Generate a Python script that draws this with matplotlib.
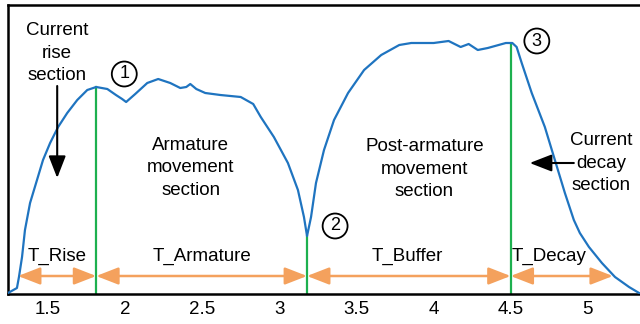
import matplotlib.pyplot as plt

plt.rcParams['font.family'] = ['Liberation Sans', 'DejaVu Sans']

# current waveform (time, arbitrary current units)
time = [1.240, 1.298, 1.311, 1.331, 1.350, 1.383, 1.428, 1.467, 1.513, 1.565,
        1.624, 1.689, 1.754, 1.812, 1.884, 1.940, 1.980, 2.006, 2.065, 2.143,
        2.214, 2.292, 2.357, 2.396, 2.422, 2.461, 2.519, 2.617, 2.749, 2.830,
        2.879, 2.964, 3.055, 3.120, 3.159, 3.179, 3.205, 3.237, 3.289, 3.354,
        3.445, 3.549, 3.660, 3.777, 3.855, 4.000, 4.097, 4.136, 4.175, 4.227,
        4.286, 4.351, 4.468, 4.510, 4.538, 4.571, 4.636, 4.721, 4.786, 4.851,
        4.909, 4.948, 5.007, 5.091, 5.176, 5.267, 5.332]
current = [1, 6, 17, 37, 64, 91, 114, 134, 151, 167,
           181, 194, 204, 207, 205, 199, 195, 192, 200, 211,
           215, 211, 206, 207, 210, 205, 201, 199, 197, 190,
           177, 157, 131, 104, 77, 58, 77, 111, 144, 174,
           201, 224, 239, 249, 251, 251, 253, 250, 247, 250,
           244, 246, 251, 251, 247, 231, 201, 167, 134, 101,
           74, 61, 47, 31, 17, 7, 1]

# section boundaries (time, current at the marker)
bounds_t = [1.812, 3.179, 4.499]
bounds_i = [207, 58, 250]
rise_start = 1.305
decay_end = 5.162

span_labels = ['T_Rise', 'T_Armature', 'T_Buffer', 'T_Decay']
label_x = [1.559, 2.495, 3.829, 4.747]
ticks = [1.5, 2, 2.5, 3, 3.5, 4, 4.5, 5]

blue = '#1f74c0'
green = '#1db04f'
orange = '#f4a15d'

fig = plt.figure(figsize=(6.4, 3.24), dpi=100)
ax = fig.add_axes([8 / 640, 30 / 324, 1 - 8 / 640, 289 / 324])
ax.set_xlim(1.240, 5.338)
ax.set_ylim(0, 289)

ax.plot(time, current, color=blue, linewidth=1.6, zorder=3)

for t, i in zip(bounds_t, bounds_i):
    ax.plot([t, t], [0, i], color=green, linewidth=1.6, zorder=2)

# double arrows for time spans
edges = [rise_start] + bounds_t + [decay_end]
arrow_y = 18
for k in range(len(span_labels)):
    ax.annotate('', xy=(edges[k + 1], arrow_y), xytext=(edges[k], arrow_y),
                arrowprops=dict(arrowstyle='<|-|>,head_length=0.9,head_width=0.35',
                                color=orange, lw=1.8, shrinkA=0, shrinkB=0,
                                mutation_scale=15))
for x, lab in zip(label_x, span_labels):
    ax.text(x, 38, lab, ha='center', va='center', fontsize=13.5)

# circled markers
circles = [('1', 1.994, 220), ('2', 3.361, 68), ('3', 4.669, 253)]
for s, x, y in circles:
    ax.text(x, y, s, ha='center', va='center', fontsize=13,
            bbox=dict(boxstyle='circle,pad=0.22', fc='white', ec='black', lw=1.3))

# section descriptions
ax.text(1.559, 241, 'Current\nrise\nsection', ha='center', va='center',
        fontsize=13.5, linespacing=1.4)
ax.annotate('', xy=(1.559, 116), xytext=(1.559, 208),
            arrowprops=dict(arrowstyle='-|>,head_length=0.9,head_width=0.35',
                            color='black', lw=1.5, shrinkA=0, shrinkB=0,
                            mutation_scale=15))
ax.text(5.085, 131, 'Current\ndecay\nsection', ha='center', va='center',
        fontsize=13.5, linespacing=1.4)
ax.annotate('', xy=(4.623, 131), xytext=(4.909, 131),
            arrowprops=dict(arrowstyle='-|>,head_length=0.9,head_width=0.35',
                            color='black', lw=1.5, shrinkA=0, shrinkB=0,
                            mutation_scale=15))
ax.text(2.424, 126, 'Armature\nmovement\nsection', ha='center', va='center',
        fontsize=13.5, linespacing=1.4)
ax.text(3.940, 125, 'Post-armature\nmovement\nsection', ha='center', va='center',
        fontsize=13.5, linespacing=1.4)

ax.spines['right'].set_visible(False)
for s in ['top', 'left', 'bottom']:
    ax.spines[s].set_linewidth(1.8)
ax.set_xticks(ticks)
ax.set_xticklabels([str(t) for t in ticks], fontsize=13.5)
ax.tick_params(axis='x', length=0, pad=5)
ax.set_yticks([])

fig.savefig('out.png', dpi=100)
